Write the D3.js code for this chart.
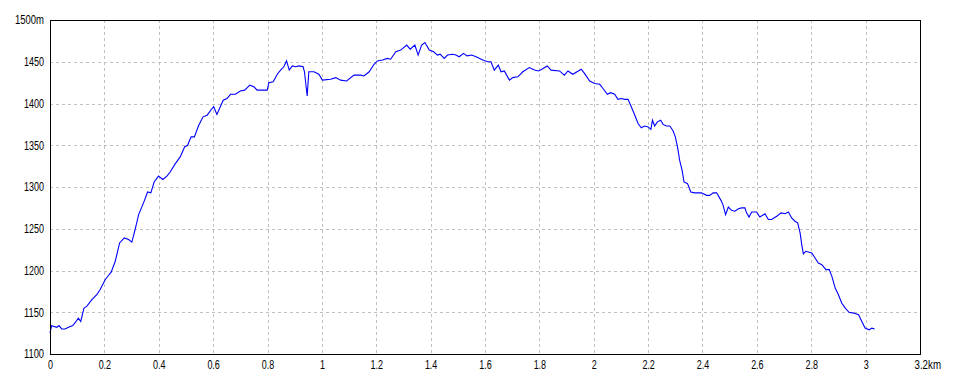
<!DOCTYPE html>
<html>
<head>
<meta charset="utf-8">
<script src="https://cdn.jsdelivr.net/npm/d3@7"></script>
<style>
  html, body { margin: 0; padding: 0; background: #ffffff; }
  svg { display: block; }
  text { font-family: "Liberation Sans", Arial, sans-serif; font-size: 12.5px; fill: #000; }
</style>
</head>
<body>
<script>
// ---- data ----
const distanceKm = [
  0, 0.006, 0.025, 0.033, 0.043, 0.055, 0.068, 0.084, 0.096, 0.104, 0.113, 0.125, 0.135, 0.154, 0.172, 0.184,
  0.203, 0.215, 0.225, 0.240, 0.256, 0.273, 0.289, 0.301, 0.313, 0.326, 0.344, 0.359, 0.371, 0.383, 0.399,
  0.415, 0.430, 0.442, 0.461, 0.479, 0.495, 0.506, 0.519, 0.531, 0.547, 0.563, 0.578, 0.596, 0.602, 0.614,
  0.637, 0.651, 0.664, 0.682, 0.700, 0.716, 0.735, 0.750, 0.762, 0.799, 0.805, 0.821, 0.836, 0.848, 0.860,
  0.870, 0.880, 0.891, 0.903, 0.916, 0.931, 0.936, 0.940, 0.946, 0.952, 0.971, 0.989,
  1.002, 1.032, 1.051, 1.069, 1.091, 1.118, 1.143, 1.155, 1.174, 1.192, 1.204, 1.223, 1.241, 1.253, 1.272,
  1.290, 1.312, 1.325, 1.342, 1.354, 1.367, 1.379, 1.395, 1.411, 1.425, 1.435, 1.450, 1.462, 1.481, 1.493,
  1.505, 1.521, 1.534, 1.551, 1.567, 1.592, 1.610, 1.622, 1.634, 1.649, 1.659, 1.671, 1.690, 1.702, 1.721,
  1.739, 1.763, 1.782, 1.797, 1.809, 1.829, 1.843, 1.874, 1.892, 1.905, 1.923, 1.954, 1.966, 1.985, 2.003,
  2.022, 2.034, 2.050, 2.062, 2.077, 2.089, 2.101,
  2.114, 2.126, 2.138, 2.151, 2.163, 2.175, 2.187, 2.200, 2.210, 2.216, 2.224, 2.234, 2.246, 2.255, 2.267,
  2.280, 2.292, 2.300, 2.308, 2.316, 2.325, 2.332, 2.345, 2.357, 2.372, 2.396, 2.415, 2.427, 2.439, 2.452,
  2.468, 2.476, 2.485, 2.495, 2.507, 2.519, 2.532, 2.544, 2.556, 2.562, 2.571, 2.581, 2.599, 2.611, 2.630,
  2.642, 2.654, 2.673, 2.689, 2.704, 2.716, 2.728, 2.740, 2.750, 2.759, 2.765, 2.771, 2.780, 2.802, 2.814,
  2.826, 2.839, 2.854, 2.866, 2.876, 2.888, 2.900, 2.912, 2.925, 2.939, 2.956, 2.974, 2.986, 2.998, 3.013,
  3.023, 3.033
];
const elevationM = [
  1125, 1134, 1132, 1134, 1130, 1130, 1132, 1134, 1139, 1143, 1139, 1155, 1157, 1165, 1171, 1177,
  1189, 1194, 1198, 1211, 1233, 1239, 1237, 1234, 1249, 1267, 1281, 1294, 1293, 1306, 1313,
  1309, 1313, 1318, 1328, 1336, 1348, 1350, 1360, 1360, 1374, 1384, 1386, 1394, 1396, 1387,
  1404, 1406, 1411, 1411, 1415, 1416, 1422, 1420, 1416, 1416, 1425, 1426, 1435, 1440, 1444,
  1451, 1440, 1445, 1444, 1445, 1444, 1438, 1426, 1409, 1438, 1438, 1435,
  1428, 1429, 1431, 1428, 1427, 1434, 1434, 1433, 1438, 1447, 1451, 1452, 1454, 1453, 1462,
  1464, 1470, 1465, 1470, 1458, 1470, 1473, 1464, 1462, 1458, 1459, 1454, 1458, 1459, 1458,
  1456, 1460, 1457, 1458, 1456, 1452, 1450, 1450, 1440, 1446, 1438, 1439, 1428, 1431, 1432,
  1438, 1443, 1440, 1439, 1441, 1445, 1440, 1439, 1434, 1439, 1435, 1441, 1436, 1427, 1424,
  1423, 1418, 1411, 1413, 1411, 1405, 1406,
  1405, 1405, 1396, 1386, 1376, 1371, 1373, 1372, 1369, 1380, 1373, 1378, 1380, 1375, 1373,
  1373, 1367, 1360, 1348, 1332, 1320, 1306, 1304, 1294, 1293, 1293, 1290, 1290, 1293, 1293,
  1284, 1278, 1267, 1276, 1272, 1271, 1274, 1275, 1275, 1269, 1264, 1270, 1270, 1264, 1268,
  1261, 1261, 1265, 1269, 1268, 1270, 1263, 1259, 1257, 1245, 1231, 1220, 1223, 1221, 1215,
  1209, 1207, 1201, 1201, 1193, 1179, 1171, 1161, 1155, 1150, 1149, 1147, 1139, 1131, 1129,
  1131, 1130
];
const xTickValues = [0, 0.2, 0.4, 0.6, 0.8, 1, 1.2, 1.4, 1.6, 1.8, 2, 2.2, 2.4, 2.6, 2.8, 3, 3.2];
const yTickValues = [1100, 1150, 1200, 1250, 1300, 1350, 1400, 1450, 1500];
const xUnit = "km";
const yUnit = "m";

// ---- layout ----
const W = 960, H = 384;
const mLeft = 50, mRight = 920, mTop = 20, mBottom = 354;

const svg = d3.select("body").append("svg").attr("width", W).attr("height", H);

const x = d3.scaleLinear().domain([0, 3.2]).range([mLeft, mRight]);
const y = d3.scaleLinear().domain([1100, 1500]).range([mBottom, mTop]);

// approximate narrow bitmap-font widths
function labelWidth(s) {
  let w = 0;
  for (const c of s) w += c === "." ? 2.5 : c === "m" ? 9 : 5;
  return w;
}

// grid
const grid = svg.append("g");
grid.selectAll("line.vx").data(xTickValues.filter(v => v > 0 && v < 3.2)).enter().append("line")
  .attr("x1", d => Math.round(x(d)) + 0.5).attr("x2", d => Math.round(x(d)) + 0.5)
  .attr("y1", mTop).attr("y2", mBottom)
  .attr("stroke", "#c0c0c0").attr("stroke-dasharray", "3,3").attr("shape-rendering", "crispEdges");
grid.selectAll("line.hy").data(yTickValues.filter(v => v > 1100 && v < 1500)).enter().append("line")
  .attr("y1", d => Math.round(y(d)) + 0.5).attr("y2", d => Math.round(y(d)) + 0.5)
  .attr("x1", mLeft).attr("x2", mRight)
  .attr("stroke", "#c0c0c0").attr("stroke-dasharray", "3,3").attr("shape-rendering", "crispEdges");

// axes (labels only)
const lastX = xTickValues[xTickValues.length - 1];
const xAxis = d3.axisBottom(x).tickValues(xTickValues).tickSize(0).tickPadding(5)
  .tickFormat(d => d === lastX ? d3.format("~g")(d) + xUnit : d3.format("~g")(d));
const gx = svg.append("g").attr("transform", `translate(0,${mBottom})`).call(xAxis);
gx.select(".domain").remove();
gx.attr("font-family", null).attr("font-size", null);
gx.selectAll(".tick text")
  .attr("y", 11).attr("dy", "0.35em")
  .attr("textLength", function () { return labelWidth(this.textContent); })
  .attr("lengthAdjust", "spacingAndGlyphs")
  .filter(d => d === lastX)
  .attr("text-anchor", "start").attr("x", -6);

const yAxis = d3.axisLeft(y).tickValues(yTickValues).tickSize(0).tickPadding(6)
  .tickFormat(d => d === 1500 ? d + yUnit : String(d));
const gy = svg.append("g").attr("transform", `translate(${mLeft},0)`).call(yAxis);
gy.select(".domain").remove();
gy.attr("font-family", null).attr("font-size", null);
gy.selectAll(".tick text")
  .attr("dy", "0.3em")
  .attr("textLength", function () { return labelWidth(this.textContent); })
  .attr("lengthAdjust", "spacingAndGlyphs");
svg.selectAll(".tick text").attr("fill", "#000");

// line
const line = d3.line().x((d, i) => x(distanceKm[i])).y(d => y(d));
svg.append("path").datum(elevationM)
  .attr("d", line)
  .attr("fill", "none").attr("stroke", "#0000ff").attr("stroke-width", 1.1)
  .attr("stroke-linejoin", "miter");

// frame
svg.append("rect").attr("x", mLeft + 0.5).attr("y", mTop + 0.5)
  .attr("width", mRight - mLeft).attr("height", mBottom - mTop)
  .attr("fill", "none").attr("stroke", "#000").attr("stroke-width", 1).attr("shape-rendering", "crispEdges");
</script>
</body>
</html>
